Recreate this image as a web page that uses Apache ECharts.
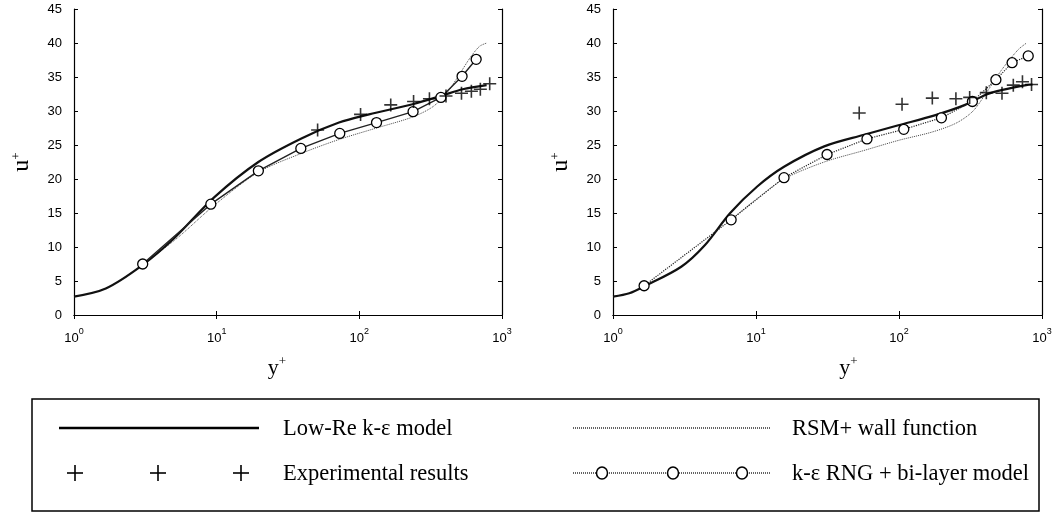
<!DOCTYPE html>
<html><head><meta charset="utf-8">
<script src="https://cdn.jsdelivr.net/npm/echarts@6/dist/echarts.min.js"></script>
<style>html,body{margin:0;padding:0;background:#fff}#c{width:1058px;height:513px}</style>
</head><body><div id="c"></div>
<script>
// ---- data (y+, u+) ----
const lowReLeft = [[1,2.7],[1.67,3.9],[3.0,7.3],[5.1,11.4],[9.6,17.3],[19.6,22.5],[39.6,26.0],[72,28.3],[117,29.5],[236,31.0],[384,32.3],[530,33.2],[780,33.8]];
const rsmLeft = [[3.03,7.4],[5.35,11.4],[9.7,16.2],[19.6,21.0],[39.6,23.8],[71.8,25.8],[132,27.5],[235,29.1],[326,30.6],[405,32.5],[490,35.0],[592,37.7],[695,39.5],[783,40.0]];
const rngLeft = [[3.03,7.5],[9.1,16.3],[19.6,21.2],[38.9,24.5],[72.9,26.7],[132,28.3],[238,29.9],[373,32.0],[525,35.1],[659,37.6]];
const expLeft = [[51,27.2],[102,29.5],[166,30.9],[240,31.4],[310,31.8],[405,32.2],[520,32.6],[610,32.9],[705,33.2],[820,34.0]];

const lowReRight = [[1,2.7],[1.3,3.2],[1.65,4.2],[3.0,7.1],[4.4,10.3],[6.6,15.0],[10.2,18.9],[15.7,21.8],[30,24.8],[57,26.5],[99,27.9],[180,29.4],[290,30.9],[405,32.4],[530,33.1],[775,33.8],[860,33.9]];
const rsmRight = [[6.7,14.0],[10,17.0],[15.7,20.0],[30,22.5],[57,24.2],[100,25.7],[170,26.9],[250,28.2],[326,29.9],[400,32.4],[520,36.0],[680,39.0],[780,40.0]];
const rngRight = [[1.65,4.3],[6.7,14.0],[15.7,20.2],[31.4,23.6],[59.7,25.9],[108,27.3],[198,29.0],[326,31.4],[476,34.6],[618,37.1],[801,38.1]];
const expRight = [[52.7,29.7],[105,31.0],[171,31.9],[250,31.8],[312,32.0],[408,32.7],[525,32.6],[630,33.8],[730,34.3],[845,33.9]];

const legendNames = ['Low-Re k-ε model','RSM+ wall function','Experimental results','k-ε RNG + bi-layer model'];
const xName = 'y', yName = 'u';

const chart = echarts.init(document.getElementById('c'));
const SANS = 'Liberation Sans', SERIF = 'Liberation Serif';
const PLUS = 'path://M0,5L10,5M5,0L5,10';

function supRich(big, small, lh){
  return {
    b:{fontSize:big, fontFamily:SERIF, color:'#000', lineHeight:lh, verticalAlign:'bottom'},
    s:{fontSize:small, fontFamily:SERIF, color:'#000', verticalAlign:'top'}
  };
}
function xMain(gi, pad){
  return {type:'log', logBase:10, gridIndex:gi, min:1, max:1000,
    axisLine:{show:true, lineStyle:{color:'#000', width:1.2}},
    axisTick:{inside:true, length:4, lineStyle:{color:'#000'}},
    splitLine:{show:false},
    axisLabel:{margin:12, color:'#000',
      formatter: v => '{b|10}{s|' + Math.round(Math.log10(v)) + '}',
      rich:{b:{fontSize:13, fontFamily:SANS, color:'#000', lineHeight:18, verticalAlign:'bottom'},
            s:{fontSize:9, fontFamily:SANS, color:'#000', verticalAlign:'top'}}},
    name:'{b|'+xName+'}{s|+}', nameLocation:'middle', nameGap:40,
    nameTextStyle:{rich:supRich(22,13,24), padding:pad}
  };
}
function xTop(gi){
  return {type:'log', logBase:10, gridIndex:gi, min:1, max:1000, position:'top',
    axisLine:{show:true, lineStyle:{color:'#000', width:1.2}},
    axisTick:{inside:true, length:4, lineStyle:{color:'#000'}},
    axisLabel:{show:false}, splitLine:{show:false}};
}
function yMain(gi){
  return {type:'value', gridIndex:gi, min:0, max:45, interval:5,
    axisLine:{show:true, lineStyle:{color:'#000', width:1.2}},
    axisTick:{inside:true, length:4, lineStyle:{color:'#000'}},
    splitLine:{show:false},
    axisLabel:{margin:12, fontSize:13, fontFamily:SANS, color:'#000'},
    name:'{b|'+yName+'}{s|+}', nameLocation:'middle', nameRotate:90, nameGap:40,
    nameTextStyle:{rich:supRich(24,13,24)}
  };
}
function yRight(gi){
  return {type:'value', gridIndex:gi, min:0, max:45, interval:5, position:'right',
    axisLine:{show:true, lineStyle:{color:'#000', width:1.2}},
    axisTick:{inside:true, length:4, lineStyle:{color:'#000'}},
    axisLabel:{show:false}, splitLine:{show:false}};
}
function seriesFor(ax, lowRe, rsm, rng, exp, rngDotted){
  return [
    {name:legendNames[1], type:'line', xAxisIndex:ax, yAxisIndex:ax, data:rsm, smooth:0.3, symbol:'none',
     lineStyle:{color:'#444', width:1, type:'dotted'}, z:2},
    {name:legendNames[0], type:'line', xAxisIndex:ax, yAxisIndex:ax, data:lowRe, smooth:0.3, symbol:'none',
     lineStyle:{color:'#111', width:2.2}, z:3},
    {name:legendNames[3], type:'line', xAxisIndex:ax, yAxisIndex:ax, data:rng, symbol:'circle', symbolSize:10,
     showSymbol:true, lineStyle:{color:'#222', width:rngDotted?1.2:1.4, type:rngDotted?'dotted':'solid'},
     itemStyle:{color:'#fff', borderColor:'#000', borderWidth:1.3}, z:5},
    {name:legendNames[2], type:'scatter', xAxisIndex:ax, yAxisIndex:ax, data:exp, symbol:PLUS, symbolSize:13,
     itemStyle:{color:'none', borderColor:'#000', borderWidth:1.6}, z:6}
  ];
}

// legend drawn as graphic (box + samples)
const g = [];
g.push({type:'rect', shape:{x:32, y:399, width:1007, height:112}, style:{fill:'none', stroke:'#000', lineWidth:1.5}});
g.push({type:'line', shape:{x1:59, y1:428, x2:259, y2:428}, style:{stroke:'#000', lineWidth:2.5}});
g.push({type:'line', shape:{x1:573, y1:428, x2:770, y2:428}, style:{stroke:'#222', lineWidth:1.4, lineDash:[1,1]}});
g.push({type:'line', shape:{x1:573, y1:473, x2:770, y2:473}, style:{stroke:'#222', lineWidth:1.4, lineDash:[1,1]}});
[75,158,241].forEach(x => {
  g.push({type:'line', shape:{x1:x-8, y1:473, x2:x+8, y2:473}, style:{stroke:'#000', lineWidth:1.6}});
  g.push({type:'line', shape:{x1:x, y1:465, x2:x, y2:481}, style:{stroke:'#000', lineWidth:1.6}});
});
[602,673,742].forEach(x => {
  g.push({type:'ellipse', shape:{cx:x, cy:473, rx:5.5, ry:6}, style:{fill:'#fff', stroke:'#000', lineWidth:1.5}});
});
const txtPos = [[283,429],[792,429],[283,474],[792,474]];
legendNames.forEach((t,i) => {
  g.push({type:'text', x:txtPos[i][0], y:txtPos[i][1], style:{text:t, fill:'#000', fontSize:22.5, fontFamily:SERIF, verticalAlign:'middle', align:'left'}});
});

chart.setOption({
  animation:false,
  backgroundColor:'#fff',
  grid:[{left:74, top:9, width:428, height:306},{left:613, top:9, width:429, height:306}],
  xAxis:[xMain(0,[0,22,0,0]), xMain(1,[0,0,0,42]), xTop(0), xTop(1)],
  yAxis:[yMain(0), yMain(1), yRight(0), yRight(1)],
  series:[...seriesFor(0, lowReLeft, rsmLeft, rngLeft, expLeft, false),
          ...seriesFor(1, lowReRight, rsmRight, rngRight, expRight, true)],
  graphic:g
});
</script></body></html>
